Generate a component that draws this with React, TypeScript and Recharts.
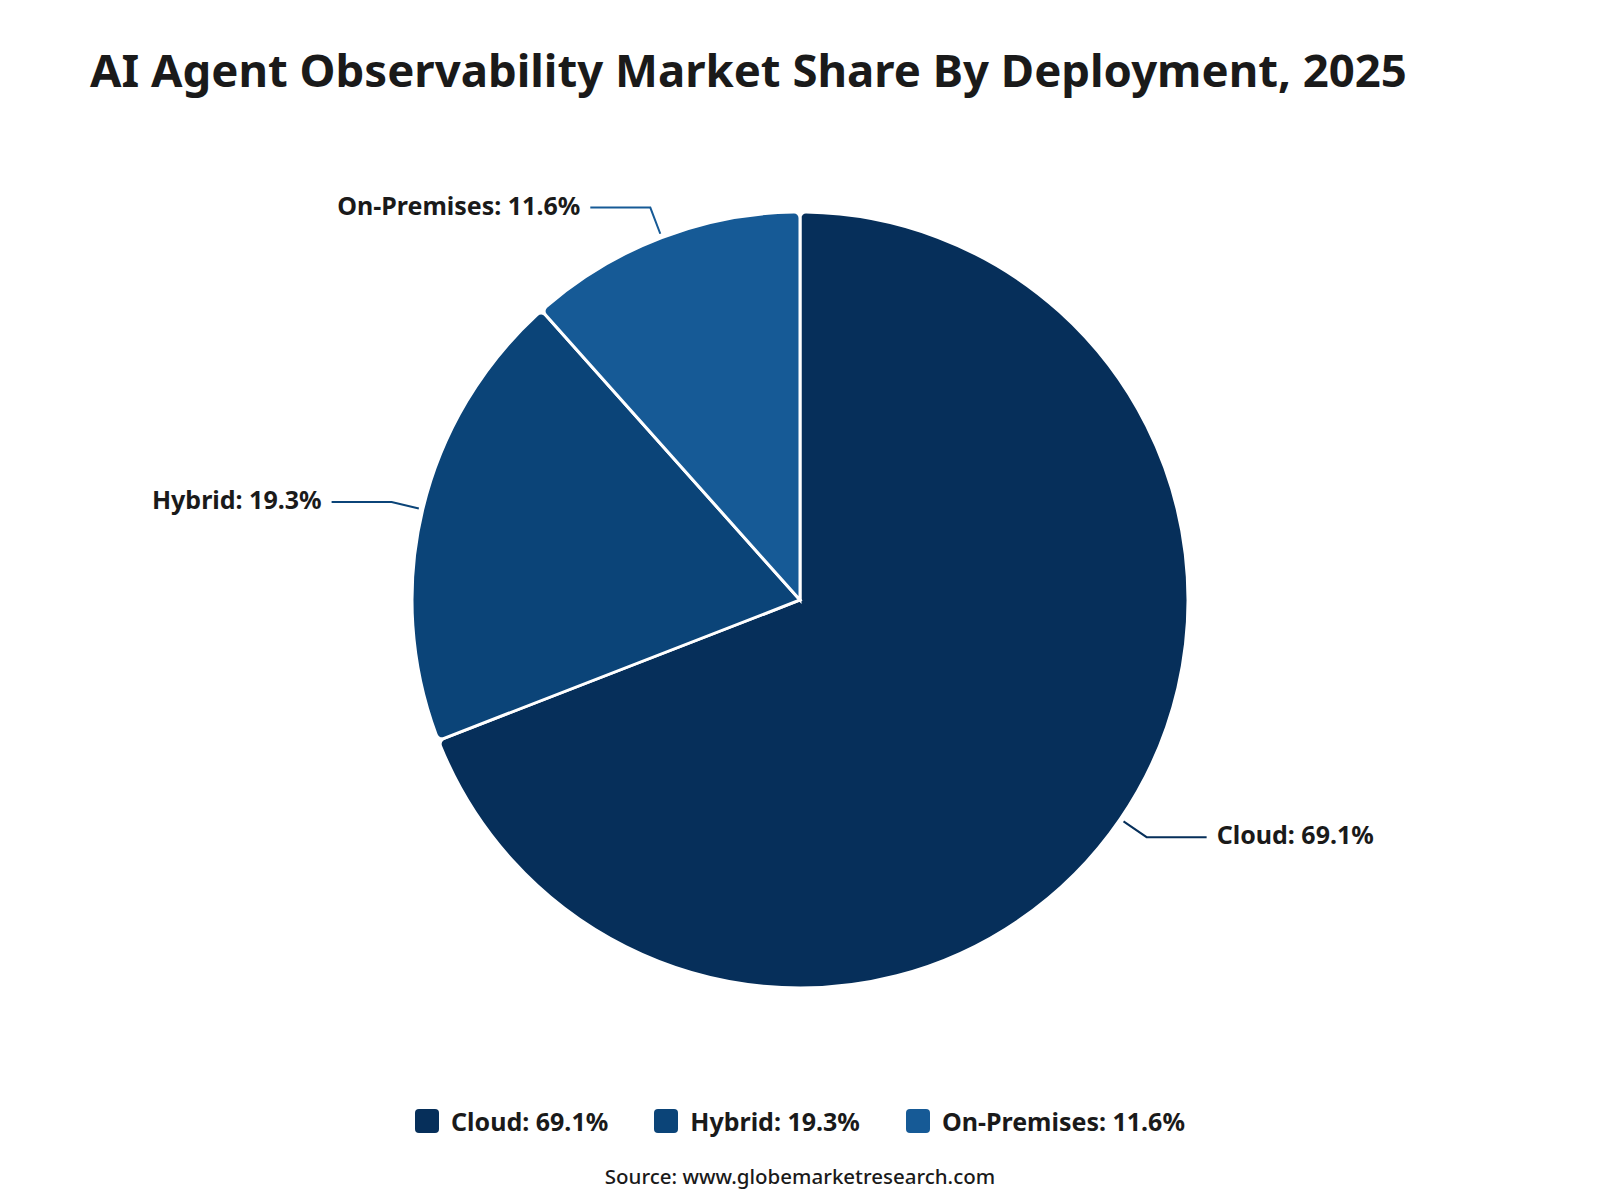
import { PieChart, Pie, Cell, Legend } from 'recharts'

const deployments = ['Cloud', 'Hybrid', 'On-Premises']
const shares = [69.1, 19.3, 11.6]
const sliceColors = ['#062f5a', '#0b4478', '#165a96']

const chartData = deployments.map((name, i) => ({ name, value: shares[i] }))

const FONT = '"Noto Sans", "Open Sans", sans-serif'
const RADIAN = Math.PI / 180

// leader line: short radial stub, then a horizontal run, then the text
function renderLabel(props: any) {
  const { cx, cy, midAngle, outerRadius, index } = props
  const cos = Math.cos(-midAngle * RADIAN)
  const sin = Math.sin(-midAngle * RADIAN)
  const sx = cx + (outerRadius + 4) * cos
  const sy = cy + (outerRadius + 4) * sin
  const mx = cx + (outerRadius + 32) * cos
  const my = cy + (outerRadius + 32) * sin
  const dir = cos >= 0 ? 1 : -1
  const ex = mx + dir * 60
  const color = sliceColors[index]
  return (
    <g key={`lbl-${index}`}>
      <polyline
        points={`${sx},${sy} ${mx},${my} ${ex},${my}`}
        fill="none"
        stroke={color}
        strokeWidth={2}
      />
      <text
        x={ex + dir * 10}
        y={my - 3}
        textAnchor={dir > 0 ? 'start' : 'end'}
        dominantBaseline="central"
        fill="#1a1a1a"
        fontFamily={FONT}
        fontWeight={700}
        fontSize={25}
      >
        {`${deployments[index]}: ${shares[index]}%`}
      </text>
    </g>
  )
}

function LegendContent() {
  return (
    <div style={{ display: 'flex', justifyContent: 'center', gap: 46, fontFamily: FONT }}>
      {deployments.map((name, i) => (
        <div key={name} style={{ display: 'flex', alignItems: 'center' }}>
          <span
            style={{
              width: 24,
              height: 24,
              borderRadius: 4,
              background: sliceColors[i],
              marginRight: 12,
              display: 'inline-block',
            }}
          />
          <span style={{ fontSize: 25, fontWeight: 700, color: '#1a1a1a' }}>
            {`${name}: ${shares[i]}%`}
          </span>
        </div>
      ))}
    </div>
  )
}

export default function App() {
  return (
    <div
      style={{
        position: 'absolute',
        left: 0,
        top: 0,
        width: 1600,
        height: 1200,
        background: '#ffffff',
        fontFamily: FONT,
      }}
    >
      <div
        style={{
          position: 'absolute',
          left: 90,
          top: 38,
          fontSize: 45.5,
          fontWeight: 700,
          color: '#1a1a1a',
          whiteSpace: 'nowrap',
        }}
      >
        AI Agent Observability Market Share By Deployment, 2025
      </div>

      <PieChart width={1600} height={1200} margin={{ top: 0, right: 0, bottom: 0, left: 0 }}>
        <Pie
          data={chartData}
          dataKey="value"
          nameKey="name"
          cx={800}
          cy={600}
          outerRadius={388}
          startAngle={90}
          endAngle={-270}
          cornerRadius={6}
          stroke="#ffffff"
          strokeWidth={3}
          label={renderLabel}
          labelLine={false}
          isAnimationActive={false}
        >
          {chartData.map((d, i) => (
            <Cell key={d.name} fill={sliceColors[i]} />
          ))}
        </Pie>
        <Legend
          content={<LegendContent />}
          wrapperStyle={{ position: 'absolute', left: 0, top: 1104, width: 1600 }}
        />
      </PieChart>

      <div
        style={{
          position: 'absolute',
          left: 0,
          top: 1162,
          width: 1600,
          textAlign: 'center',
          fontSize: 20.5,
          fontWeight: 500,
          color: '#1a1a1a',
        }}
      >
        Source: www.globemarketresearch.com
      </div>
    </div>
  )
}
